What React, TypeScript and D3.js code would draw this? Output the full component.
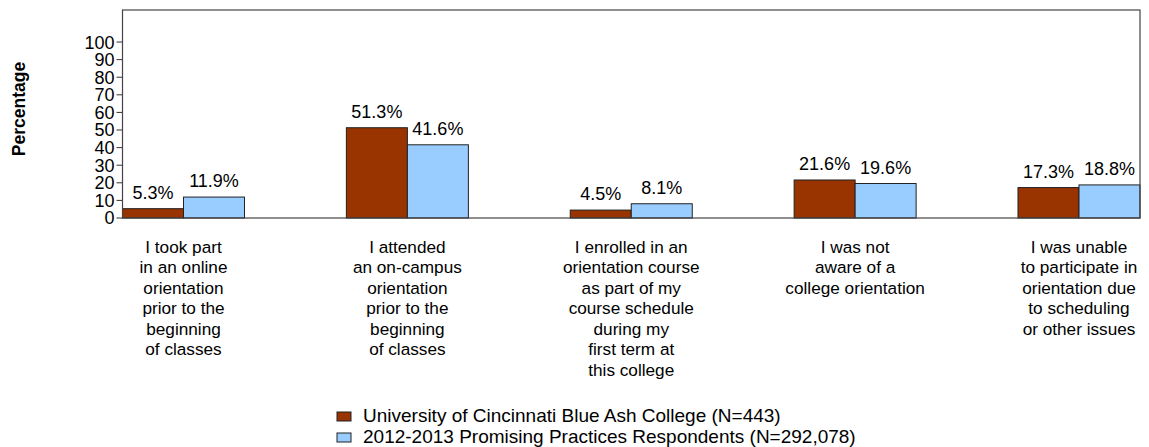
import React from "react";
import * as d3 from "d3";

const categories: string[] = [
  "I took part\nin an online\norientation\nprior to the\nbeginning\nof classes",
  "I attended\nan on-campus\norientation\nprior to the\nbeginning\nof classes",
  "I enrolled in an\norientation course\nas part of my\ncourse schedule\nduring my\nfirst term at\nthis college",
  "I was not\naware of a\ncollege orientation",
  "I was unable\nto participate in\norientation due\nto scheduling\nor other issues",
];
const seriesNames: string[] = [
  "University of Cincinnati Blue Ash College (N=443)",
  "2012-2013 Promising Practices Respondents (N=292,078)",
];
const ucbaValues: number[] = [5.3, 51.3, 4.5, 21.6, 17.3];
const ppValues: number[] = [11.9, 41.6, 8.1, 19.6, 18.8];
const yTicks: number[] = [0, 10, 20, 30, 40, 50, 60, 70, 80, 90, 100];
const seriesColors: string[] = ["#993300", "#99CCFF"];
const yTitle = "Percentage";

const W = 1149;
const H = 447;
const left = 122.5;
const right = 1140;
const top = 10;
const bottom = 218;
const FONT = "'Liberation Sans', Arial, Helvetica, sans-serif";

export default function App() {
  const series = [ucbaValues, ppValues];
  const x0 = d3
    .scaleBand<number>()
    .domain(categories.map((_, i) => i))
    .range([left, right])
    .paddingInner(0.455)
    .paddingOuter(0);
  const x1 = d3
    .scaleBand<number>()
    .domain(series.map((_, i) => i))
    .range([0, x0.bandwidth()])
    .padding(0);
  const y = d3.scaleLinear().domain([0, 118.2]).range([bottom, top]);

  return (
    <svg
      width={W}
      height={H}
      style={{ position: "absolute", left: 0, top: 0, background: "#fff" }}
      fontFamily={FONT}
    >
      <rect x={0} y={0} width={W} height={H} fill="#fff" />
      {/* y ticks */}
      {yTicks.map((t) => (
        <g key={t}>
          <line x1={left - 6} x2={left} y1={y(t)} y2={y(t)} stroke="#333" strokeWidth={1} />
          <text x={left - 8} y={y(t)} dy="0.36em" textAnchor="end" fontSize={18} fill="#000">
            {t}
          </text>
        </g>
      ))}
      {/* bars */}
      {categories.map((_, ci) =>
        series.map((vals, si) => {
          const bx = (x0(ci) as number) + (x1(si) as number);
          const bw = x1.bandwidth();
          const v = vals[ci];
          return (
            <g key={`${ci}-${si}`}>
              <rect
                x={bx}
                y={y(v)}
                width={bw}
                height={bottom - y(v)}
                fill={seriesColors[si]}
                stroke="#222"
                strokeWidth={1}
              />
              <text
                x={bx + bw / 2}
                y={y(v) - 10}
                textAnchor="middle"
                fontSize={18}
                fill="#000"
              >
                {v.toFixed(1) + "%"}
              </text>
            </g>
          );
        })
      )}
      {/* frame */}
      <rect
        x={left}
        y={top}
        width={right - left}
        height={bottom - top}
        fill="none"
        stroke="#444"
        strokeWidth={1.2}
      />
      {/* category labels */}
      {categories.map((c, ci) => {
        const cx = (x0(ci) as number) + x0.bandwidth() / 2;
        return (
          <text key={ci} textAnchor="middle" fontSize={17.2} fill="#000">
            {c.split("\n").map((line, li) => (
              <tspan key={li} x={cx} y={252.5 + li * 20.5}>
                {line}
              </tspan>
            ))}
          </text>
        );
      })}
      {/* y title */}
      <text
        transform={`translate(25,109) rotate(-90)`}
        textAnchor="middle"
        fontSize={17.5}
        fontWeight="bold"
        fill="#000"
      >
        {yTitle}
      </text>
      {/* legend */}
      {seriesNames.map((name, i) => (
        <g key={name} transform={`translate(337, ${412 + i * 21})`}>
          <rect x={0} y={0} width={14} height={9} fill={seriesColors[i]} stroke="#222" strokeWidth={1} />
          <text x={26} y={9.5} fontSize={19} fill="#000">
            {name}
          </text>
        </g>
      ))}
    </svg>
  );
}
